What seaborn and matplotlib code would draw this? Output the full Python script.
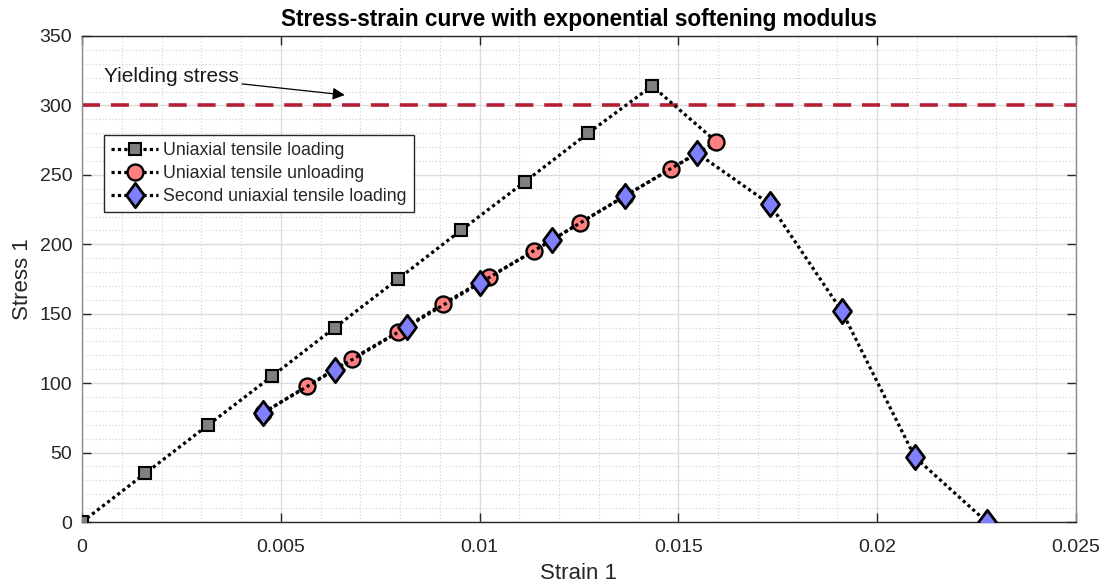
import numpy as np
import pandas as pd
import matplotlib
matplotlib.use("Agg")
import matplotlib.pyplot as plt
from matplotlib.path import Path
from matplotlib.ticker import MultipleLocator
import seaborn as sns

# Loading path: linear elastic up to the peak, then one softened point
load_strain = [0.0, 0.00159, 0.00318, 0.00478, 0.00636, 0.00795, 0.00953,
               0.01114, 0.01273, 0.01434, 0.01595]
load_stress = [0, 35, 70, 105, 140, 175, 210, 245, 280, 314, 274]

# Unloading path with the degraded modulus
unload_strain = [0.01595, 0.01481, 0.01366, 0.01252, 0.01137, 0.01024,
                 0.00908, 0.00795, 0.00679, 0.00566, 0.00455]
unload_stress = [273.7, 254.2, 234.8, 215.3, 195.2, 176.5, 157.1, 136.9,
                 117.5, 97.9, 78.5]

# Second loading: reloads along the degraded modulus, then softens to zero
reload_strain = [0.00455, 0.00636, 0.00817, 0.01001, 0.01182, 0.01366,
                 0.01547, 0.0173, 0.01911, 0.02095, 0.02276]
reload_stress = [78.5, 109.5, 140.4, 172.1, 203.1, 234.8, 265.7, 229.0,
                 152.0, 46.8, 0.0]

yield_stress = 300

series_labels = ["Uniaxial tensile loading", "Uniaxial tensile unloading",
                 "Second uniaxial tensile loading"]

sns.set_theme(style="white")
plt.rcParams["font.family"] = ["Liberation Sans", "DejaVu Sans"]

fig = plt.figure(figsize=(11.08, 5.87), dpi=100)
ax = fig.add_axes([0.074, 0.1107, 0.897, 0.828])

# diamond marker a bit wider than matplotlib's thin diamond
diamond = Path([(0, 1), (0.74, 0), (0, -1), (-0.74, 0), (0, 1)],
               [Path.MOVETO, Path.LINETO, Path.LINETO, Path.LINETO,
                Path.CLOSEPOLY])

line_kw = dict(color="black", linestyle=(0, (1, 1)), linewidth=2.3,
               markeredgecolor="black", sort=False, estimator=None, ax=ax)

df_load = pd.DataFrame({"strain": load_strain, "stress": load_stress})
df_unload = pd.DataFrame({"strain": unload_strain, "stress": unload_stress})
df_reload = pd.DataFrame({"strain": reload_strain, "stress": reload_stress})

sns.lineplot(data=df_load, x="strain", y="stress", marker="s",
             markersize=8, markerfacecolor="#808080", markeredgewidth=1.5,
             label=series_labels[0], zorder=3, **line_kw)
sns.lineplot(data=df_unload, x="strain", y="stress", marker="o",
             markersize=11.5, markerfacecolor="#FF8080", markeredgewidth=1.7,
             label=series_labels[1], zorder=4, **line_kw)
sns.lineplot(data=df_reload, x="strain", y="stress", marker=diamond,
             markersize=17.5, markerfacecolor="#8080FF", markeredgewidth=2.0,
             label=series_labels[2], zorder=5, **line_kw)

ax.axhline(yield_stress, color="#B51F36", linewidth=2.6,
           linestyle=(0, (5, 3)), zorder=2)

ax.annotate("Yielding stress", xy=(0.00661, 307.5), xytext=(0.00055, 321),
            fontsize=15, color="#1a1a1a", va="center", ha="left",
            arrowprops=dict(arrowstyle="-|>", color="black", lw=0.9,
                            mutation_scale=18, shrinkA=0, shrinkB=0))

ax.set_xlim(0, 0.025)
ax.set_ylim(0, 350)
ax.xaxis.set_major_locator(MultipleLocator(0.005))
ax.xaxis.set_minor_locator(MultipleLocator(0.001))
ax.yaxis.set_major_locator(MultipleLocator(50))
ax.yaxis.set_minor_locator(MultipleLocator(10))
ax.set_xticklabels([f"{v:g}" for v in ax.get_xticks()])

ax.grid(which="major", color="#dcdcdc", linewidth=1.0, linestyle="-")
ax.grid(which="minor", color="#d0d0d0", linewidth=0.8, linestyle=(0, (1, 2)))
ax.set_axisbelow(True)

for side, sp in ax.spines.items():
    sp.set_linewidth(1.0)
    sp.set_color("#262626" if side in ("bottom", "top") else "#8a8a8a")
ax.tick_params(which="major", direction="in", length=6.5, width=1.0,
               colors="#262626", labelsize=14, top=True, right=True,
               bottom=True, left=True)
ax.tick_params(axis="x", which="major", pad=12)
ax.tick_params(axis="y", which="major", pad=7)
ax.tick_params(which="minor", length=0)

ax.set_xlabel("Strain 1", fontsize=16, color="#262626", labelpad=5)
ax.set_ylabel("Stress 1", fontsize=16, color="#262626", labelpad=4.5)
ax.set_title("Stress-strain curve with exponential softening modulus",
             fontsize=16.3, fontweight="bold", color="black", pad=7)

leg = ax.legend(loc="upper left", bbox_to_anchor=(0.0225, 0.796),
                fontsize=12.8, frameon=True, fancybox=False, framealpha=1,
                edgecolor="#262626", handlelength=2.6, handletextpad=0.3,
                borderpad=0.4, labelspacing=0.33, borderaxespad=0)
leg.get_frame().set_linewidth(1.0)

fig.savefig("out.png", dpi=100, facecolor="white")
